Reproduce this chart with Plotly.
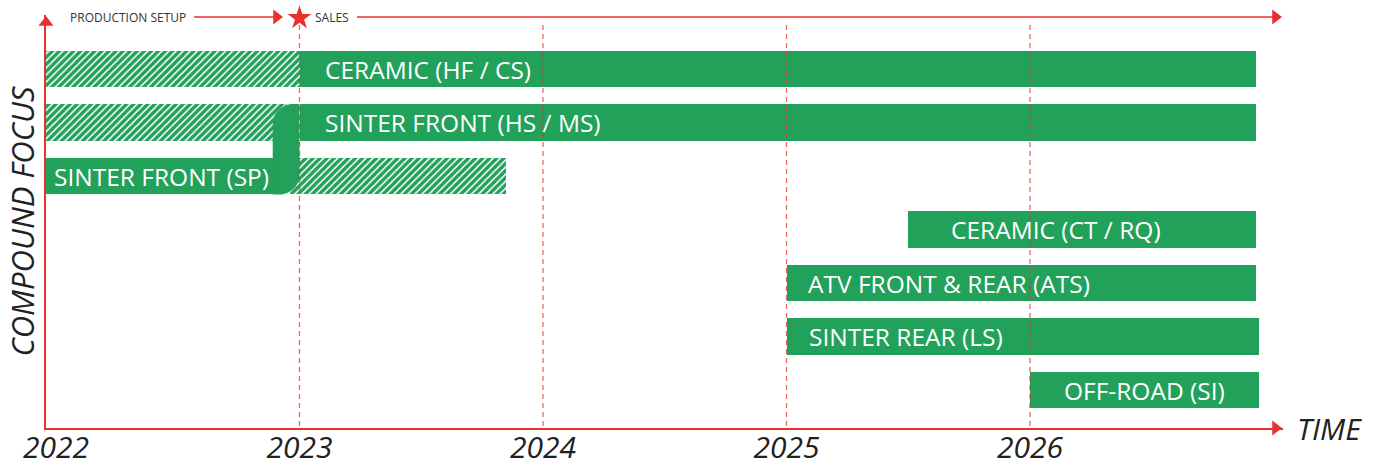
import plotly.graph_objects as go

# ---------------- data ----------------
rows = ["CERAMIC (HF / CS)", "SINTER FRONT (HS / MS)", "SINTER FRONT (SP)",
        "CERAMIC (CT / RQ)", "ATV FRONT & REAR (ATS)", "SINTER REAR (LS)", "OFF-ROAD (SI)"]
sales_start = [2023.0, 2023.0, 2021.96, 2025.5, 2025.0, 2025.0, 2026.0]
sales_end = [2026.93, 2026.93, 2022.89, 2026.93, 2026.93, 2026.94, 2026.94]
setup_rows = [0, 1, 2]
setup_start = [2021.96, 2021.96, 2022.96]
setup_end = [2023.0, 2022.95, 2023.85]
years = [2022, 2023, 2024, 2025, 2026]
phase_labels = ["PRODUCTION SETUP", "SALES"]

# ---------------- style ----------------
GREEN = "#22a15a"
RED = "#e8312f"
DASH_RED = "rgba(232,49,47,0.75)"
TXT = "#222222"
FONT = "Open Sans"
label_shift = [23, 23, 6, 41, 19, 20, 32]
BAR_W = 0.69

# pixel helpers for decorations (layout geometry)
def xd(px):
    return 2023 + (px - 299.5) / 243.5

def yd(py):
    return (py - 69) / 53.5

X0, X1 = xd(46), xd(1283)
Y_TOP, Y_BOT = yd(15), yd(428)

fig = go.Figure()

# hatched "production setup" bars
fig.add_trace(go.Bar(
    orientation="h", y=setup_rows,
    x=[e - s for s, e in zip(setup_start, setup_end)], base=setup_start,
    width=BAR_W,
    marker=dict(color="white", line=dict(width=0),
                pattern=dict(shape="/", fgcolor=GREEN, bgcolor="white", size=5,
                             solidity=0.7, fgopacity=1)),
    hoverinfo="skip", showlegend=False))

# solid "sales" bars
fig.add_trace(go.Bar(
    orientation="h", y=list(range(len(rows))),
    x=[e - s for s, e in zip(sales_start, sales_end)], base=sales_start,
    width=BAR_W, marker=dict(color=GREEN, line=dict(width=0)),
    hoverinfo="skip", showlegend=False))

# connector between SINTER FRONT (SP) and SINTER FRONT (HS / MS)
cx0, cx1 = sales_end[2], sales_start[1]
yt, yb = 1 - BAR_W / 2, 2 + BAR_W / 2
rx, ry = 20 / 243.5, 20 / 53.5
path = (f"M {cx0},{yt + ry} C {cx0},{yt + ry * 0.45} {cx0 + rx * 0.45},{yt} {cx0 + rx},{yt} "
        f"L {cx1},{yt} L {cx1},{yb - ry} "
        f"C {cx1},{yb - ry * 0.45} {cx1 - rx * 0.45},{yb} {cx1 - rx},{yb} L {cx0},{yb} Z")
fig.add_shape(type="path", path=path, xref="x", yref="y",
              fillcolor=GREEN, line=dict(width=0), layer="above")

# dashed year lines
for yr in years[1:]:
    fig.add_shape(type="line", xref="x", yref="y", x0=yr, x1=yr, y0=yd(25), y1=Y_BOT,
                  line=dict(color=DASH_RED, width=1.3, dash="5px,4px"), layer="above")

# top phase arrows
ytop = yd(17)
fig.add_shape(type="line", xref="x", yref="y", x0=xd(194), x1=xd(278), y0=ytop, y1=ytop,
              line=dict(color=RED, width=1.5), layer="above")
fig.add_shape(type="line", xref="x", yref="y", x0=xd(357), x1=xd(1277), y0=ytop, y1=ytop,
              line=dict(color=RED, width=1.5), layer="above")

# arrow heads and star
fig.add_trace(go.Scatter(
    x=[xd(276.5), xd(1275.5), xd(1275.5), X0],
    y=[ytop, ytop, Y_BOT, yd(22.5)],
    mode="markers",
    marker=dict(symbol=["triangle-right", "triangle-right", "triangle-right", "triangle-up"],
                size=13, color=RED, line=dict(width=0)),
    cliponaxis=False, hoverinfo="skip", showlegend=False))
fig.add_trace(go.Scatter(
    x=[2023], y=[yd(18)], mode="markers",
    marker=dict(symbol="star", size=18, color=RED, line=dict(width=0)),
    cliponaxis=False, hoverinfo="skip", showlegend=False))

annotations = []
# bar labels
for i, name in enumerate(rows):
    annotations.append(dict(x=sales_start[i], y=i, xref="x", yref="y", text=name,
                            xanchor="left", yanchor="middle", xshift=label_shift[i],
                            showarrow=False, font=dict(family=FONT, size=24.5, color="white")))
# phase labels
annotations.append(dict(x=xd(68), y=ytop, xref="x", yref="y", text=phase_labels[0],
                        xanchor="left", yanchor="middle", showarrow=False,
                        font=dict(family=FONT, size=12, color="#333333")))
annotations.append(dict(x=xd(313), y=ytop, xref="x", yref="y", text=phase_labels[1],
                        xanchor="left", yanchor="middle", showarrow=False,
                        font=dict(family=FONT, size=12, color="#333333")))
# axis titles
annotations.append(dict(x=0, y=0.5, xref="paper", yref="paper", text="COMPOUND FOCUS",
                        textangle=-90, xanchor="center", yanchor="middle", xshift=-25,
                        showarrow=False,
                        font=dict(family=FONT, size=31, color=TXT, style="italic")))
annotations.append(dict(x=1, y=0, xref="paper", yref="paper", text="TIME",
                        xanchor="left", yanchor="middle", xshift=12,
                        showarrow=False,
                        font=dict(family=FONT, size=30, color=TXT, style="italic")))

fig.update_layout(
    width=1378, height=464,
    margin=dict(l=46, r=95, t=15, b=36, autoexpand=False),
    paper_bgcolor="white", plot_bgcolor="white",
    barmode="overlay", bargap=0,
    annotations=annotations,
    xaxis=dict(range=[X0, X1], tickvals=years, ticktext=[str(y) for y in years],
               automargin=False, ticklabelstandoff=-8,
               showgrid=False, zeroline=False, showline=True, linecolor=RED, linewidth=1.5,
               ticks="", tickfont=dict(family=FONT, size=30, color=TXT, style="italic")),
    yaxis=dict(range=[Y_BOT, Y_TOP], showgrid=False, zeroline=False, showline=True,
               automargin=False,
               linecolor=RED, linewidth=1.5, showticklabels=False, ticks=""),
    font=dict(family=FONT),
)

fig.write_html("out.html", config={"displayModeBar": False},
               post_script="document.body.style.margin='0';document.body.style.overflow='hidden';")
